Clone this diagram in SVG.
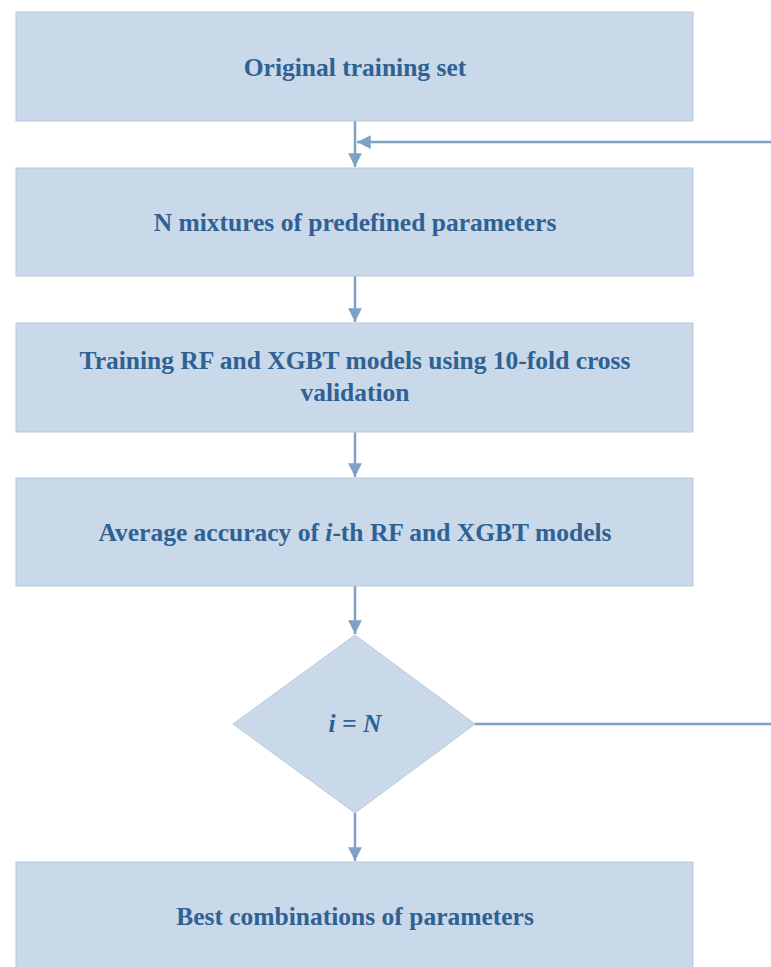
<svg xmlns="http://www.w3.org/2000/svg" width="771" height="967" viewBox="0 0 771 967">
<style>
.box{fill:#c9d9e9;stroke:#b7c9db;stroke-width:1}
.lbl{font-family:"Liberation Serif","Times New Roman",serif;font-weight:bold;font-size:25.5px;fill:#2f6193;text-anchor:middle}
.con{stroke:#7ea2c6;stroke-width:2.5;fill:none}
</style>
<defs>
<marker id="ah" viewBox="0 0 10 10" refX="10" refY="5" markerWidth="5.5" markerHeight="5.5" orient="auto" markerUnits="strokeWidth">
<path d="M0,0 L10,5 L0,10 z" fill="#7ea2c6"/>
</marker>
</defs>
<rect width="771" height="967" fill="#ffffff"/>
<g id="connectors">
<line class="con" x1="355" y1="121" x2="355" y2="167" marker-end="url(#ah)"/>
<line class="con" x1="771" y1="142" x2="357" y2="142" marker-end="url(#ah)"/>
<line class="con" x1="355" y1="276" x2="355" y2="322" marker-end="url(#ah)"/>
<line class="con" x1="355" y1="432" x2="355" y2="477" marker-end="url(#ah)"/>
<line class="con" x1="355" y1="586" x2="355" y2="634" marker-end="url(#ah)"/>
<line class="con" x1="475" y1="724" x2="771" y2="724"/>
<line class="con" x1="355" y1="813" x2="355" y2="861" marker-end="url(#ah)"/>
</g>
<g id="n1">
<rect class="box" x="16" y="12" width="677" height="109"/>
<text class="lbl" x="355" y="76">Original training set</text>
</g>
<g id="n2">
<rect class="box" x="16" y="168" width="677" height="108"/>
<text class="lbl" x="355" y="231">N mixtures of predefined parameters</text>
</g>
<g id="n3">
<rect class="box" x="16" y="323" width="677" height="109"/>
<text class="lbl" x="355" y="369">Training RF and XGBT models using 10-fold cross</text>
<text class="lbl" x="355" y="401">validation</text>
</g>
<g id="n4">
<rect class="box" x="16" y="478" width="677" height="108"/>
<text class="lbl" x="355" y="541">Average accuracy of <tspan font-style="italic">i</tspan>-th RF and XGBT models</text>
</g>
<g id="n5">
<polygon class="box" points="355,635 475,724 355,813 233,724"/>
<text class="lbl" x="355" y="732" font-style="italic">i = N</text>
</g>
<g id="n6">
<rect class="box" x="16" y="862" width="677" height="110"/>
<text class="lbl" x="355" y="925">Best combinations of parameters</text>
</g>
</svg>
